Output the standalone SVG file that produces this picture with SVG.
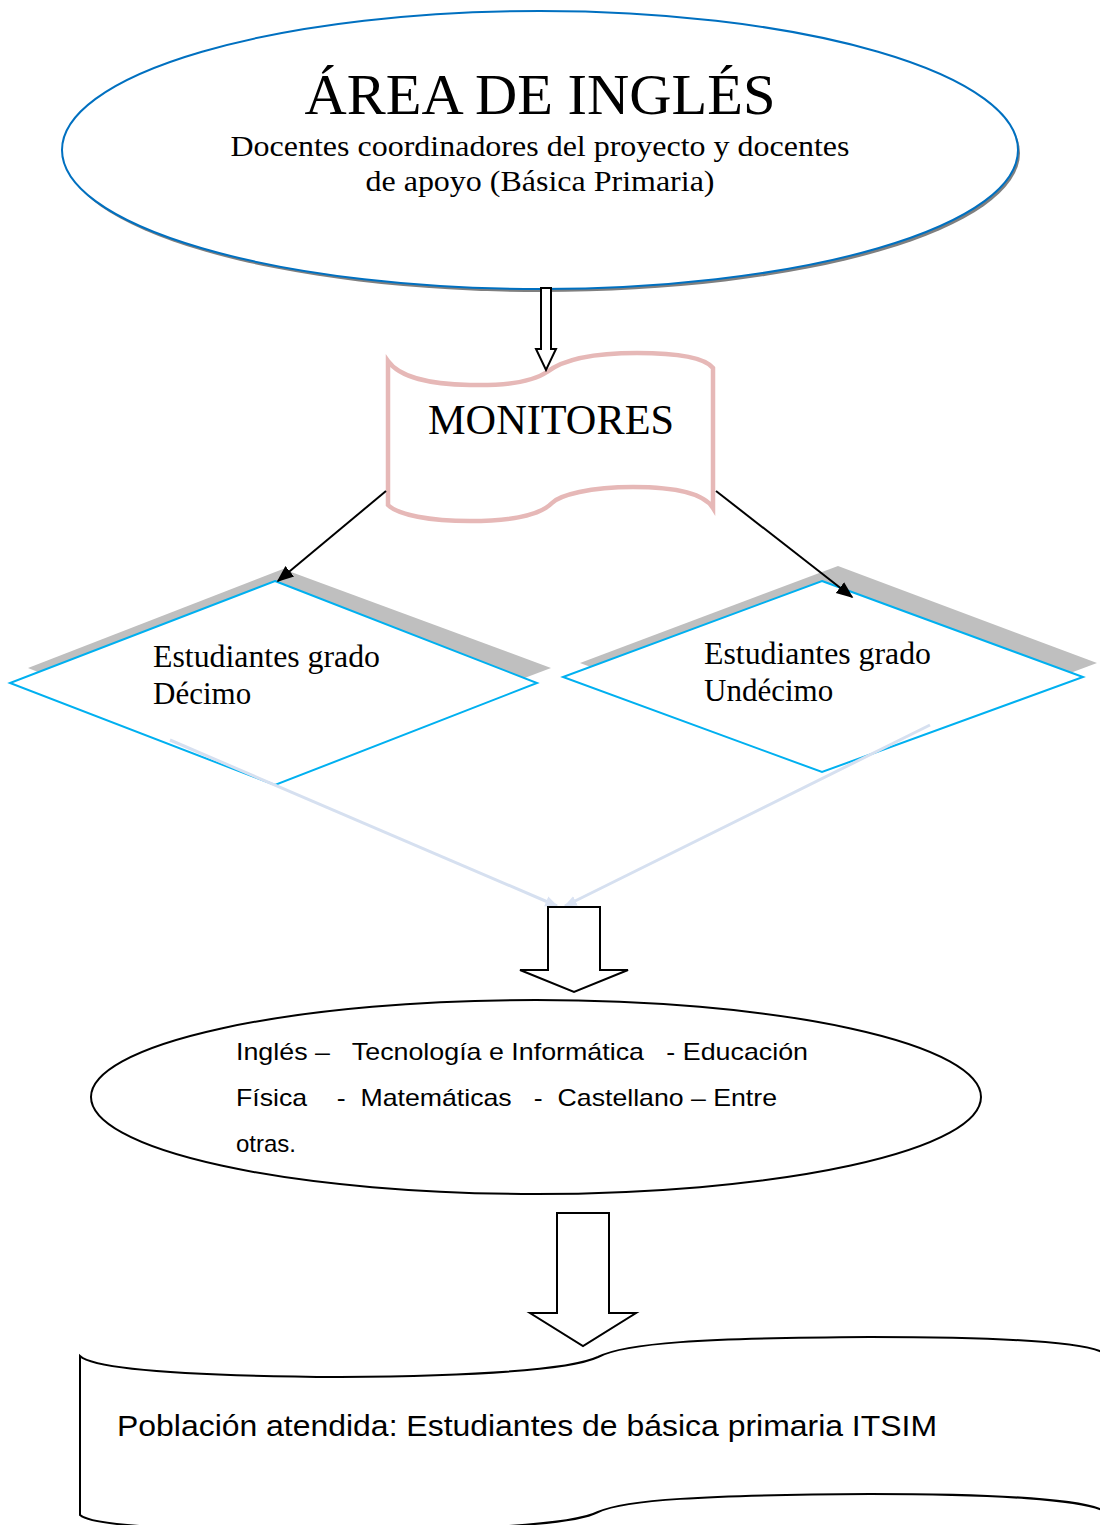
<svg xmlns="http://www.w3.org/2000/svg" width="1100" height="1525" viewBox="0 0 1100 1525">
<defs>
<style>
.serif{font-family:"Liberation Serif","Times New Roman",serif;fill:#000}
.sans{font-family:"Liberation Sans",Arial,sans-serif;fill:#000}
.hollow{fill:#fff;stroke:#000;stroke-width:2}
.dia{fill:#fff;stroke:#00B0F0;stroke-width:2}
.shadow{fill:#BFBFBF}
</style>
<marker id="ah" viewBox="0 0 10 10" refX="9" refY="5" markerWidth="17" markerHeight="17" markerUnits="userSpaceOnUse" orient="auto">
<path d="M0,1 L10,5 L0,9 z" fill="#000"/>
</marker>
<marker id="ahl" viewBox="0 0 10 10" refX="9" refY="5" markerWidth="13" markerHeight="13" markerUnits="userSpaceOnUse" orient="auto">
<path d="M0,1 L10,5 L0,9 z" fill="#DAE3F3"/>
</marker>
</defs>
<rect width="1100" height="1525" fill="#fff"/>

<g id="area-ingles">
<ellipse cx="542" cy="153" rx="478" ry="139" fill="#7F7F7F"/>
<ellipse cx="540" cy="150" rx="478" ry="139" fill="#fff" stroke="#0070C0" stroke-width="2"/>
<text class="serif" x="540" y="114" font-size="58" text-anchor="middle" textLength="471" lengthAdjust="spacingAndGlyphs">ÁREA DE INGLÉS</text>
<text class="serif" x="540" y="156" font-size="29" text-anchor="middle" textLength="619" lengthAdjust="spacingAndGlyphs">Docentes coordinadores del proyecto y docentes</text>
<text class="serif" x="540" y="191" font-size="29" text-anchor="middle" textLength="349" lengthAdjust="spacingAndGlyphs">de apoyo (Básica Primaria)</text>
</g>

<g id="monitores">
<path d="M388,361 C400,378 430,384 470,385 C510,386 535,380 547,372 C565,358 600,353 637,353 C680,353 705,358 713,368 L713,508 C705,495 680,487 633,487 C590,487 560,495 552,503 C540,515 510,521 470,521 C430,521 398,515 388,505 Z" fill="#fff" stroke="#E6B8B7" stroke-width="4.5"/>
<text class="serif" x="551" y="434" font-size="42" text-anchor="middle" textLength="246" lengthAdjust="spacingAndGlyphs">MONITORES</text>
</g>

<g id="decimo">
<polygon class="shadow" points="28,668 283,569 551,668 283,770"/>
<polygon class="dia" points="275,581 537,683 275,785 10,683"/>
<text class="serif" x="153" y="667" font-size="31" textLength="227" lengthAdjust="spacingAndGlyphs">Estudiantes grado</text>
<text class="serif" x="153" y="704" font-size="31">Décimo</text>
</g>

<g id="undecimo">
<polygon class="shadow" points="580,663 838,566 1097,663 838,760"/>
<polygon class="dia" points="822,581 1083,677 822,772 563,677"/>
<text class="serif" x="704" y="664" font-size="31" textLength="227" lengthAdjust="spacingAndGlyphs">Estudiantes grado</text>
<text class="serif" x="704" y="701" font-size="31">Undécimo</text>
</g>

<g id="asignaturas">
<ellipse cx="536" cy="1097" rx="445" ry="97" fill="#fff" stroke="#000" stroke-width="2"/>
<text class="sans" x="236" y="1060" font-size="24" xml:space="preserve" textLength="572" lengthAdjust="spacingAndGlyphs">Inglés –   Tecnología e Informática   - Educación</text>
<text class="sans" x="236" y="1106" font-size="24" xml:space="preserve" textLength="541" lengthAdjust="spacingAndGlyphs">Física    -  Matemáticas   -  Castellano – Entre</text>
<text class="sans" x="236" y="1152" font-size="24">otras.</text>
</g>

<g id="poblacion">
<path d="M80,1356 C95,1370 200,1376 340,1377 C470,1376 570,1370 598,1357 C625,1343 700,1338 870,1337 C1000,1337 1080,1342 1102,1352 L1102,1510 C1080,1500 1000,1494 870,1494 C700,1495 625,1500 598,1512 C575,1524 480,1530 340,1530 C200,1530 95,1528 80,1515 Z" fill="#fff" stroke="#000" stroke-width="2"/>
<text class="sans" x="117" y="1436" font-size="30" textLength="820" lengthAdjust="spacingAndGlyphs">Población atendida: Estudiantes de básica primaria ITSIM</text>
</g>

<g id="connectors">
<path class="hollow" d="M541,288 L551,288 L551,349 L556,349 L546,370 L536,349 L541,349 Z"/>
<line x1="386" y1="491" x2="278" y2="581" stroke="#000" stroke-width="2" marker-end="url(#ah)"/>
<line x1="716" y1="491" x2="852" y2="597" stroke="#000" stroke-width="2" marker-end="url(#ah)"/>
<line x1="170" y1="740" x2="557" y2="906" stroke="#D6E0F0" stroke-width="3" marker-end="url(#ahl)"/>
<line x1="930" y1="725" x2="565" y2="906" stroke="#D6E0F0" stroke-width="3" marker-end="url(#ahl)"/>
<path class="hollow" d="M548,907 L600,907 L600,970 L628,970 L574,992 L520,970 L548,970 Z"/>
<path class="hollow" d="M557,1213 L609,1213 L609,1313 L636,1313 L583,1346 L530,1313 L557,1313 Z"/>
</g>
</svg>
